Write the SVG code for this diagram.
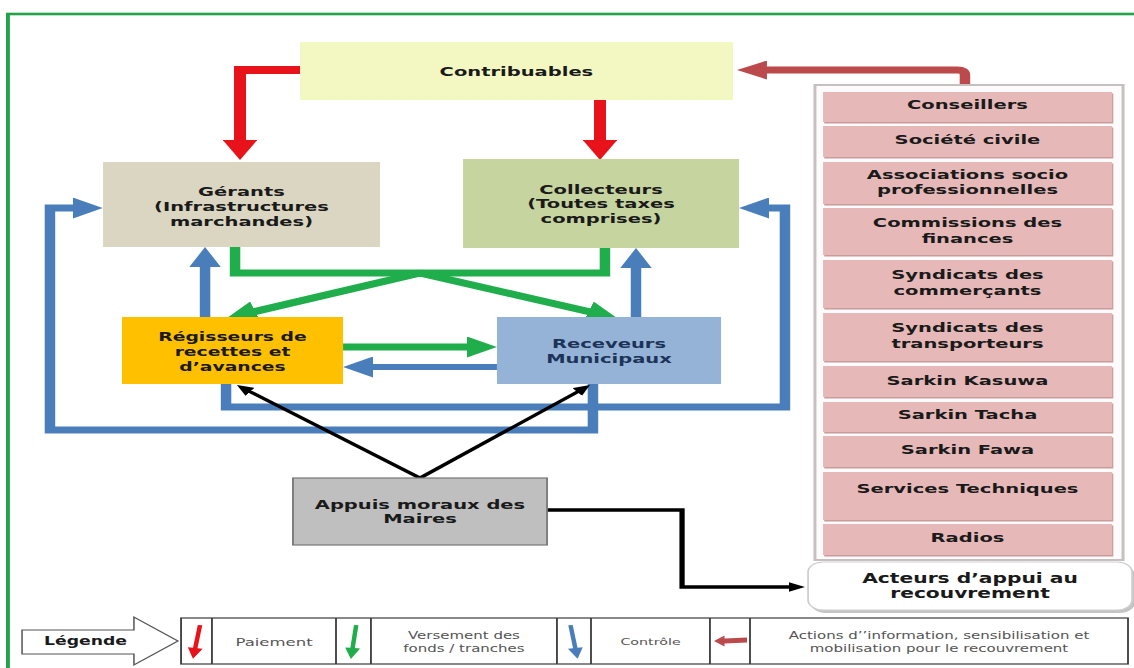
<svg xmlns="http://www.w3.org/2000/svg" width="1134" height="668" viewBox="0 0 1134 668">
  <style>
    .t { font-family: "DejaVu Sans", Verdana, sans-serif; font-weight: bold; font-size: 13px; fill: #1a1a1a; text-anchor: middle; }
    .ts { font-size: 12.5px; }
    .navy { fill: #1d3358; }
    .lg { font-family: "DejaVu Sans", Verdana, sans-serif; font-size: 10px; fill: #555; text-anchor: middle; }
    .row { fill: #e6b9b8; }
    .rowsh { fill: #c99c9b; }
    .pay { fill: none; stroke: #e8121a; stroke-width: 8; }
    .ctl { fill: none; stroke: #4a7ebb; stroke-width: 7; }
    .fund { fill: none; stroke: #1fae4b; stroke-width: 7; }
    .sens { fill: none; stroke: #bc4a4c; stroke-width: 7; stroke-linejoin: round; }
    .moral { fill: none; stroke: #000; stroke-width: 3; }
    .cell { fill: none; stroke: #3a3a3a; stroke-width: 1.2; }
  </style>
  <defs>
    <marker id="mRed" markerUnits="userSpaceOnUse" viewBox="0 0 20 23" markerWidth="20" markerHeight="23" refX="2" refY="11.5" orient="auto">
      <path d="M0,0 L20,11.5 L0,23 z" fill="#e8121a"/>
    </marker>
    <marker id="mBlue" markerUnits="userSpaceOnUse" viewBox="0 0 20 21" markerWidth="20" markerHeight="21" refX="2" refY="10.5" orient="auto">
      <path d="M0,0 L20,10.5 L0,21 z" fill="#4a7ebb"/>
    </marker>
    <marker id="mGreen" markerUnits="userSpaceOnUse" viewBox="0 0 20 21" markerWidth="20" markerHeight="21" refX="2" refY="10.5" orient="auto">
      <path d="M0,0 L20,10.5 L0,21 z" fill="#1fae4b"/>
    </marker>
    <marker id="mBrown" markerUnits="userSpaceOnUse" viewBox="0 0 20 19" markerWidth="20" markerHeight="19" refX="2" refY="9.5" orient="auto">
      <path d="M0,0 L20,9.5 L0,19 z" fill="#bc4a4c"/>
    </marker>
    <marker id="mBlack" markerUnits="userSpaceOnUse" viewBox="0 0 11 10" markerWidth="11" markerHeight="10" refX="1" refY="5" orient="auto">
      <path d="M0,0 L11,5 L0,10 z" fill="#000"/>
    </marker>
    <!-- small downward legend arrow, centred on its own origin -->
    <path id="legArrow" d="M-1.5,-17 L1.5,-17 L1.5,6 L5,6 L0,17 L-5,6 L-1.5,6 z"/>
  </defs>

  <rect x="0" y="0" width="1134" height="668" fill="#ffffff"/>

  <!-- the whole chart is laid out on a grid that is widened 1.5x horizontally -->
  <g id="chart" transform="scale(1.5,1)">
    <!-- outer frame -->
    <rect x="5.3" y="14" width="760" height="680" fill="none" stroke="#22a34a" stroke-width="2.6"/>

    <g id="connectors">
      <!-- payments -->
      <path class="pay" d="M200,70 H160 V142" marker-end="url(#mRed)"/>
      <path class="pay" d="M400,100 V142" marker-end="url(#mRed)"/>
      <!-- transfers of funds -->
      <path class="fund" d="M156.7,247 V273 H403.3 V248"/>
      <path class="fund" d="M280,273 L168.3,312.1" marker-end="url(#mGreen)"/>
      <path class="fund" d="M280,273 L394.3,312.2" marker-end="url(#mGreen)"/>
      <path class="fund" d="M228.7,347 H313.3" marker-end="url(#mGreen)"/>
      <!-- control -->
      <path class="ctl" d="M395.3,384 V430 H33.3 V208 H50.5" marker-end="url(#mBlue)"/>
      <path class="ctl" d="M150.7,384 V407 H523.3 V208 H510.7" marker-end="url(#mBlue)"/>
      <path class="ctl" d="M136.7,317 V265" marker-end="url(#mBlue)"/>
      <path class="ctl" d="M424,317 V266" marker-end="url(#mBlue)"/>
      <path class="ctl" style="stroke-width:6" d="M331.3,367 H246.7" marker-end="url(#mBlue)"/>
      <!-- mayors' moral support -->
      <path class="moral" d="M280,478 L165.9,391.1" marker-end="url(#mBlack)"/>
      <path class="moral" d="M280,478 L385.6,391.3" marker-end="url(#mBlack)"/>
      <path class="moral" style="stroke-width:3.5" d="M364.7,510 H454.7 V587 H526.7" marker-end="url(#mBlack)"/>
      <!-- information / awareness actions -->
      <path class="sens" d="M643.3,85 V75 Q643.3,70 638.3,70 H509.3" marker-end="url(#mBrown)"/>
    </g>

    <g id="n-contribuables">
      <rect x="200" y="42" width="288.7" height="58" fill="#f3f8c3"/>
      <text class="t" x="344.3" y="76.5">Contribuables</text>
    </g>

    <g id="n-gerants">
      <rect x="68.7" y="162" width="184.6" height="85" fill="#dad6c1"/>
      <text class="t" x="161" y="196">Gérants</text>
      <text class="t" x="161" y="211">(Infrastructures</text>
      <text class="t" x="161" y="226">marchandes)</text>
    </g>

    <g id="n-collecteurs">
      <rect x="308.7" y="159" width="184" height="89" fill="#c6d4a0"/>
      <text class="t" x="400.7" y="194">Collecteurs</text>
      <text class="t" x="400.7" y="208.5">(Toutes taxes</text>
      <text class="t" x="400.7" y="223">comprises)</text>
    </g>

    <g id="n-regisseurs">
      <rect x="81.3" y="317" width="147.4" height="67" fill="#ffc000"/>
      <text class="t ts" x="155" y="341.5">Régisseurs de</text>
      <text class="t ts" x="155" y="356.5">recettes et</text>
      <text class="t ts" x="155" y="371.5">d’avances</text>
    </g>

    <g id="n-receveurs">
      <rect x="331.3" y="317" width="149.4" height="67" fill="#95b3d7"/>
      <text class="t navy" x="406" y="348.5">Receveurs</text>
      <text class="t navy" x="406" y="363.5">Municipaux</text>
    </g>

    <g id="n-appuis">
      <rect x="195.3" y="478" width="169.4" height="67" fill="#bfbfbf" stroke="#777" stroke-width="1.2"/>
      <text class="t" x="280" y="509.5">Appuis moraux des</text>
      <text class="t" x="280" y="523.5">Maires</text>
    </g>

    <g id="n-acteurs-liste">
      <rect x="543.3" y="85" width="205.4" height="475" fill="#fdfbfb" stroke="#c6c0c0" stroke-width="2"/>
      <g id="n-conseillers">
        <rect class="rowsh" x="549.5" y="93.5" width="192.7" height="30"/>
        <rect class="row" x="548.7" y="92" width="192.7" height="30"/>
        <text class="t" x="645" y="109.5">Conseillers</text>
      </g>
      <g id="n-societe-civile">
        <rect class="rowsh" x="549.5" y="127.5" width="192.7" height="31"/>
        <rect class="row" x="548.7" y="126" width="192.7" height="31"/>
        <text class="t" x="645" y="144.5">Société civile</text>
      </g>
      <g id="n-associations">
        <rect class="rowsh" x="549.5" y="163.5" width="192.7" height="42"/>
        <rect class="row" x="548.7" y="162" width="192.7" height="42"/>
        <text class="t" x="645" y="179.5">Associations socio</text>
        <text class="t" x="645" y="194.5">professionnelles</text>
      </g>
      <g id="n-commissions">
        <rect class="rowsh" x="549.5" y="209.5" width="192.7" height="47"/>
        <rect class="row" x="548.7" y="208" width="192.7" height="47"/>
        <text class="t" x="645" y="227.5">Commissions des</text>
        <text class="t" x="645" y="243.5">finances</text>
      </g>
      <g id="n-syndicats-commercants">
        <rect class="rowsh" x="549.5" y="261.5" width="192.7" height="48"/>
        <rect class="row" x="548.7" y="260" width="192.7" height="48"/>
        <text class="t" x="645" y="279.5">Syndicats des</text>
        <text class="t" x="645" y="295">commerçants</text>
      </g>
      <g id="n-syndicats-transporteurs">
        <rect class="rowsh" x="549.5" y="314.5" width="192.7" height="48"/>
        <rect class="row" x="548.7" y="313" width="192.7" height="48"/>
        <text class="t" x="645" y="332.5">Syndicats des</text>
        <text class="t" x="645" y="348.5">transporteurs</text>
      </g>
      <g id="n-sarkin-kasuwa">
        <rect class="rowsh" x="549.5" y="367.5" width="192.7" height="31"/>
        <rect class="row" x="548.7" y="366" width="192.7" height="31"/>
        <text class="t" x="645" y="385.5">Sarkin Kasuwa</text>
      </g>
      <g id="n-sarkin-tacha">
        <rect class="rowsh" x="549.5" y="403.5" width="192.7" height="30"/>
        <rect class="row" x="548.7" y="402" width="192.7" height="30"/>
        <text class="t" x="645" y="419.5">Sarkin Tacha</text>
      </g>
      <g id="n-sarkin-fawa">
        <rect class="rowsh" x="549.5" y="437.5" width="192.7" height="31"/>
        <rect class="row" x="548.7" y="436" width="192.7" height="31"/>
        <text class="t" x="645" y="454.5">Sarkin Fawa</text>
      </g>
      <g id="n-services-techniques">
        <rect class="rowsh" x="549.5" y="473.5" width="192.7" height="48"/>
        <rect class="row" x="548.7" y="472" width="192.7" height="48"/>
        <text class="t" x="645" y="493.5">Services Techniques</text>
      </g>
      <g id="n-radios">
        <rect class="rowsh" x="549.5" y="525.5" width="192.7" height="31"/>
        <rect class="row" x="548.7" y="524" width="192.7" height="31"/>
        <text class="t" x="645" y="542.5">Radios</text>
      </g>
    </g>

    <g id="n-acteurs">
      <rect x="540.5" y="565" width="216" height="48" rx="10" ry="10" fill="#c4c4c4"/>
      <rect x="538.7" y="562" width="216" height="48" rx="10" ry="10" fill="#ffffff" stroke="#cfcfcf" stroke-width="1.2"/>
      <text class="t" x="646.7" y="583.5" style="font-size:13.5px">Acteurs d’appui au</text>
      <text class="t" x="646.7" y="598" style="font-size:13.5px">recouvrement</text>
    </g>

    <g id="legend">
      <polygon points="14.7,630 89.3,630 89.3,617 118.7,641 89.3,665 89.3,654 14.7,654" fill="#ffffff" stroke="#555" stroke-width="1"/>
      <text class="t" x="57" y="645" style="font-size:11.5px">Légende</text>

      <rect class="cell" x="120.7" y="618" width="631.3" height="46"/>
      <line class="cell" x1="141.3" y1="618" x2="141.3" y2="664"/>
      <line class="cell" x1="224" y1="618" x2="224" y2="664"/>
      <line class="cell" x1="247.3" y1="618" x2="247.3" y2="664"/>
      <line class="cell" x1="371.3" y1="618" x2="371.3" y2="664"/>
      <line class="cell" x1="394" y1="618" x2="394" y2="664"/>
      <line class="cell" x1="473.3" y1="618" x2="473.3" y2="664"/>
      <line class="cell" x1="500" y1="618" x2="500" y2="664"/>

      <use href="#legArrow" fill="#e8121a" transform="translate(131,642) rotate(8)"/>
      <use href="#legArrow" fill="#1fae4b" transform="translate(235.7,642) rotate(6)"/>
      <use href="#legArrow" fill="#4a7ebb" transform="translate(382.7,642) rotate(-8)"/>
      <polygon points="476,641 483,635.5 483,638.5 498,637.5 498,642.5 483,643.5 483,646.5" fill="#bc4a4c"/>

      <text class="lg" x="182.7" y="646" style="font-size:11px">Paiement</text>
      <text class="lg" x="309.3" y="639.5">Versement des</text>
      <text class="lg" x="309.3" y="652.5">fonds / tranches</text>
      <text class="lg" x="433.7" y="645.5" style="font-size:9.5px">Contrôle</text>
      <text class="lg" x="626" y="639.5">Actions d’’information, sensibilisation et</text>
      <text class="lg" x="626" y="652.5">mobilisation pour le recouvrement</text>
    </g>
  </g>
</svg>
